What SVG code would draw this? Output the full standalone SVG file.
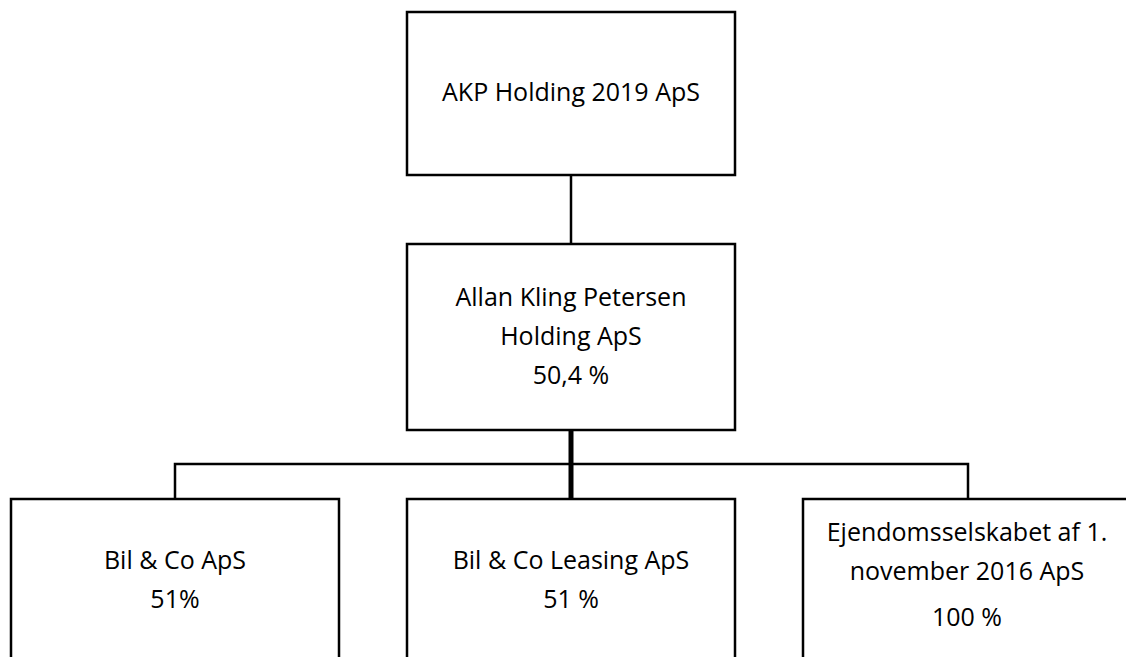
<svg xmlns="http://www.w3.org/2000/svg" width="1126" height="657" viewBox="0 0 1126 657">
<style>
.box{fill:#fff;stroke:#000;stroke-width:2.5}
.t{font-family:"Open Sans","DejaVu Sans",sans-serif;font-size:25px;fill:#000;text-anchor:middle}
.c{fill:none;stroke:#000;stroke-width:2.5}
.ck{fill:none;stroke:#000;stroke-width:5}
</style>
<rect width="1126" height="657" fill="#fff"/>
<g id="connectors">
<line class="c" x1="571" y1="175" x2="571" y2="244"/>
<line class="ck" x1="571" y1="430" x2="571" y2="499"/>
<polyline class="c" points="175,499 175,464 968,464 968,499"/>
</g>
<g id="n1">
<rect class="box" x="407" y="12" width="328" height="163"/>
<text class="t" x="571" y="101">AKP Holding 2019 ApS</text>
</g>
<g id="n2">
<rect class="box" x="407" y="244" width="328" height="186"/>
<text class="t" x="571" y="306">Allan Kling Petersen</text>
<text class="t" x="571" y="345">Holding ApS</text>
<text class="t" x="571" y="384">50,4 %</text>
</g>
<g id="n3">
<rect class="box" x="11" y="499" width="328" height="200"/>
<text class="t" x="175" y="569">Bil &amp; Co ApS</text>
<text class="t" x="175" y="608">51%</text>
</g>
<g id="n4">
<rect class="box" x="407" y="499" width="328" height="200"/>
<text class="t" x="571" y="569">Bil &amp; Co Leasing ApS</text>
<text class="t" x="571" y="608">51 %</text>
</g>
<g id="n5">
<rect class="box" x="803" y="499" width="328" height="200"/>
<text class="t" x="967" y="541">Ejendomsselskabet af 1.</text>
<text class="t" x="967" y="580">november 2016 ApS</text>
<text class="t" x="967" y="626">100 %</text>
</g>
</svg>
